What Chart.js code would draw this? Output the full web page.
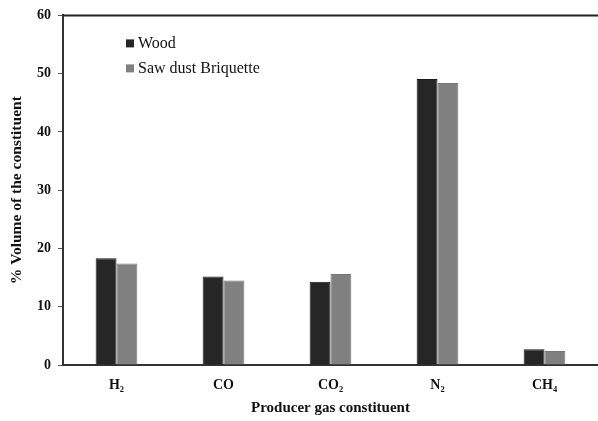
<!DOCTYPE html>
<html>
<head>
<meta charset="utf-8">
<script src="https://cdn.jsdelivr.net/npm/chart.js"></script>
<style>
  html, body { margin: 0; padding: 0; background: #fff; }
  #wrap { width: 598px; height: 421px; }
</style>
</head>
<body>
<div id="wrap"><canvas id="gasChart" width="598" height="421"></canvas></div>
<script>
const categories = ['H\u2082', 'CO', 'CO\u2082', 'N\u2082', 'CH\u2084'];
const woodValues = [18.3, 15.2, 14.3, 49.1, 2.7];
const sawdustValues = [17.4, 14.5, 15.6, 48.4, 2.4];
const yTicks = [0, 10, 20, 30, 40, 50, 60];

const serif = '"Liberation Serif", "Times New Roman", serif';

// legend sits inside the plot, top left, like the original
const insideLegend = {
  id: 'insideLegend',
  afterDraw(chart) {
    const ctx = chart.ctx;
    const area = chart.chartArea;
    ctx.save();
    // top frame line
    ctx.strokeStyle = '#222';
    ctx.lineWidth = 2;
    ctx.beginPath();
    ctx.moveTo(area.left, area.top);
    ctx.lineTo(area.right, area.top);
    ctx.stroke();

    ctx.font = '16px ' + serif;
    ctx.textBaseline = 'middle';
    chart.data.datasets.forEach((ds, i) => {
      const y = area.top + 28 + i * 25;
      const x = area.left + 63;
      ctx.fillStyle = ds.backgroundColor;
      ctx.fillRect(x, y - 4, 8, 8);
      ctx.fillStyle = '#111';
      ctx.fillText(ds.label, x + 12, y);
    });
    ctx.restore();
  }
};

new Chart(document.getElementById('gasChart'), {
  type: 'bar',
  data: {
    labels: categories,
    datasets: [
      { label: 'Wood', data: woodValues, backgroundColor: '#262626', borderColor: '#1a1a1a', borderWidth: 1 },
      { label: 'Saw dust Briquette', data: sawdustValues, backgroundColor: '#808080', borderColor: '#767676', borderWidth: 1 }
    ]
  },
  options: {
    responsive: false,
    animation: false,
    layout: { padding: { top: 14, right: 0, left: 0, bottom: 0 } },
    datasets: { bar: { barPercentage: 1, categoryPercentage: 0.39 } },
    plugins: { legend: { display: false }, tooltip: { enabled: false } },
    scales: {
      x: {
        grid: { display: false, drawTicks: false },
        border: { display: true, color: '#333', width: 2 },
        ticks: { color: '#111', font: { family: serif, size: 14, weight: 'bold' }, padding: 12 },
        title: { display: true, text: 'Producer gas constituent', color: '#111', font: { family: serif, size: 15, weight: 'bold' }, padding: { top: 6 } },
        afterFit(scale) { scale.height = 56; }
      },
      y: {
        min: 0,
        max: 60,
        afterBuildTicks(scale) { scale.ticks = yTicks.map(v => ({ value: v })); },
        grid: { display: true, drawOnChartArea: false, drawTicks: true, tickLength: 5, color: '#555' },
        border: { display: true, color: '#333', width: 2 },
        ticks: { color: '#111', font: { family: serif, size: 14, weight: 'bold' }, padding: 7 },
        title: { display: true, text: '% Volume of the constituent', color: '#111', font: { family: serif, size: 15.5, weight: 'bold' }, padding: { top: 8, bottom: 4 } },
        afterFit(scale) { scale.width = 63; }
      }
    }
  },
  plugins: [insideLegend]
});
</script>
</body>
</html>
